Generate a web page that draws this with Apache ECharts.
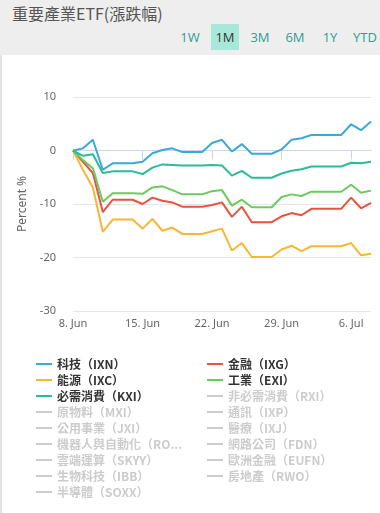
<!DOCTYPE html>
<html>
<head>
<meta charset="utf-8">
<script src="https://cdn.jsdelivr.net/npm/echarts@6/dist/echarts.min.js"></script>
<style>
  html, body { margin: 0; padding: 0; width: 380px; height: 513px; overflow: hidden; background: #eeeeee; font-family: "Noto Sans CJK TC", "Noto Sans", sans-serif; }
  #title { position: absolute; left: 12px; top: 2px; font-size: 16px; line-height: 22px; color: #555; }
  #btns { position: absolute; top: 24px; left: 0; width: 380px; height: 26px; }
  .btn { position: absolute; top: 0; width: 28px; height: 26px; line-height: 26px; text-align: center; font-size: 13px; color: #2e9e8e; font-family: "Open Sans", "Noto Sans", sans-serif; }
  .btn.on { background: #a6e9db; color: #333; }
  #card { position: absolute; left: 0; top: 55px; right: 0; bottom: 0; background: #fff; border-left: 2px solid #e2e2e2; }
  #chart { position: absolute; left: 0; top: 0; width: 380px; height: 513px; }
</style>
</head>
<body>
<div id="title">重要產業ETF(漲跌幅)</div>
<div id="btns"></div>
<div id="card"></div>
<div id="chart"></div>
<script>
// ---- data ----
const buttons = ["1W", "1M", "3M", "6M", "1Y", "YTD"];
const activeButton = "1M";

const categories = [
  "8. Jun","9. Jun","10. Jun","11. Jun","12. Jun","13. Jun","14. Jun",
  "15. Jun","16. Jun","17. Jun","18. Jun","19. Jun","20. Jun","21. Jun",
  "22. Jun","23. Jun","24. Jun","25. Jun","26. Jun","27. Jun","28. Jun",
  "29. Jun","30. Jun","1. Jul","2. Jul","3. Jul","4. Jul","5. Jul",
  "6. Jul","7. Jul","8. Jul"
];

const IXN = [0, 0.4, 2.0, -3.6, -2.4, -2.4, -2.4, -2.1, -0.5, 0.1, 0.4, -0.3, -0.3, -0.3, 1.4, 2.0, -0.2, 1.2, -0.6, -0.6, -0.6, 0.2, 2.0, 2.3, 2.9, 2.9, 2.9, 2.9, 4.9, 3.8, 5.4];
const IXG = [0, -2.1, -4.2, -11.5, -9.2, -9.2, -9.2, -10.0, -8.8, -9.4, -9.7, -10.5, -10.5, -10.5, -10.2, -9.7, -12.4, -10.5, -13.4, -13.4, -13.4, -12.3, -11.7, -12.1, -10.9, -10.9, -10.9, -10.9, -8.8, -10.8, -9.8];
const IXC = [0, -3.6, -6.9, -15.2, -12.9, -12.9, -12.9, -14.6, -12.8, -15.0, -14.4, -15.6, -15.6, -15.6, -15.1, -14.6, -18.7, -17.3, -19.9, -19.9, -19.9, -18.5, -17.8, -18.8, -17.9, -17.9, -17.9, -17.9, -17.3, -19.6, -19.3];
const EXI = [0, -1.8, -3.3, -9.6, -8.0, -8.0, -8.0, -8.1, -6.9, -6.7, -7.4, -8.2, -8.2, -8.2, -7.6, -7.4, -10.3, -9.2, -10.6, -10.6, -10.6, -8.7, -8.2, -8.5, -7.7, -7.7, -7.7, -7.7, -6.4, -7.9, -7.5];
const KXI = [0, -1.0, -0.7, -4.2, -3.9, -3.9, -3.9, -4.4, -3.2, -2.6, -2.7, -2.8, -2.8, -2.8, -2.7, -2.8, -4.7, -3.8, -5.1, -5.1, -5.1, -4.3, -3.8, -3.5, -3.0, -3.0, -3.0, -3.0, -2.3, -2.4, -2.1];

const shownNames = ["科技（IXN）", "金融（IXG）", "能源（IXC）", "工業（EXI）", "必需消費（KXI）"];
const shownData = [IXN, IXG, IXC, EXI, KXI];
const shownColors = ["#3aa8da", "#e8533f", "#f8b634", "#6ccb5f", "#2bbb9a"];

const hiddenNames = [
  "非必需消費（RXI）", "原物料（MXI）", "通訊（IXP）", "公用事業（JXI）", "醫療（IXJ）",
  "機器人與自動化（ROBO）", "網路公司（FDN）", "雲端運算（SKYY）", "歐洲金融（EUFN）",
  "生物科技（IBB）", "房地產（RWO）", "半導體（SOXX）"
];

const legendLeftColumn = ["科技（IXN）", "能源（IXC）", "必需消費（KXI）", "原物料（MXI）", "公用事業（JXI）", "機器人與自動化（ROBO）", "雲端運算（SKYY）", "生物科技（IBB）", "半導體（SOXX）"];
const legendRightColumn = ["金融（IXG）", "工業（EXI）", "非必需消費（RXI）", "通訊（IXP）", "醫療（IXJ）", "網路公司（FDN）", "歐洲金融（EUFN）", "房地產（RWO）"];

const yTicks = { min: -30, max: 10, interval: 10 };

// ---- buttons ----
const btnWrap = document.getElementById("btns");
buttons.forEach((b, i) => {
  const el = document.createElement("div");
  el.className = "btn" + (b === activeButton ? " on" : "");
  el.style.left = (176 + i * 35) + "px";
  el.textContent = b;
  btnWrap.appendChild(el);
});

// ---- chart ----
const chart = echarts.init(document.getElementById("chart"), null, { renderer: "canvas" });

const series = [];
shownNames.forEach((n, i) => {
  series.push({
    name: n, type: "line", data: shownData[i], showSymbol: false, symbol: "none",
    lineStyle: { width: 2, color: shownColors[i] }, itemStyle: { color: shownColors[i] },
    emphasis: { disabled: true }
  });
});
hiddenNames.forEach(n => {
  series.push({ name: n, type: "line", data: [], showSymbol: false, lineStyle: { width: 2 } });
});

const selected = {};
hiddenNames.forEach(n => selected[n] = false);

const legendCommon = {
  orient: "vertical",
  top: 351,
  itemWidth: 16,
  itemHeight: 2,
  itemGap: 0,
  icon: "rect",
  inactiveColor: "#cccccc",
  selected: selected,
  textStyle: {
    fontSize: 12, fontWeight: "bold", color: "#333333", lineHeight: 16,
    fontFamily: "Noto Sans CJK TC", width: 130, overflow: "truncate", ellipsis: "..."
  }
};

chart.setOption({
  animation: false,
  backgroundColor: "transparent",
  grid: { left: 73, right: 9, top: 97, bottom: 202 },
  legend: [
    Object.assign({}, legendCommon, { left: 31, data: legendLeftColumn }),
    Object.assign({}, legendCommon, { left: 202, data: legendRightColumn })
  ],
  xAxis: {
    type: "category",
    data: categories,
    boundaryGap: false,
    axisLine: { lineStyle: { color: "#ccd6eb" } },
    axisTick: { show: true, interval: 6, length: 9, lineStyle: { color: "#ccd6eb" } },
    axisLabel: { interval: 6, color: "#666666", fontSize: 11, margin: 7, fontFamily: "Noto Sans" },
    splitLine: { show: false }
  },
  yAxis: {
    type: "value",
    min: yTicks.min, max: yTicks.max, interval: yTicks.interval,
    name: "Percent %",
    nameLocation: "middle",
    nameGap: 43,
    nameTextStyle: { color: "#666666", fontSize: 12, fontFamily: "Noto Sans" },
    axisLine: { show: false },
    axisTick: { show: false },
    axisLabel: { color: "#666666", fontSize: 11, margin: 17, fontFamily: "Noto Sans" },
    splitLine: { lineStyle: { color: "#e6e6e6" } }
  },
  series: series
});
</script>
</body>
</html>
